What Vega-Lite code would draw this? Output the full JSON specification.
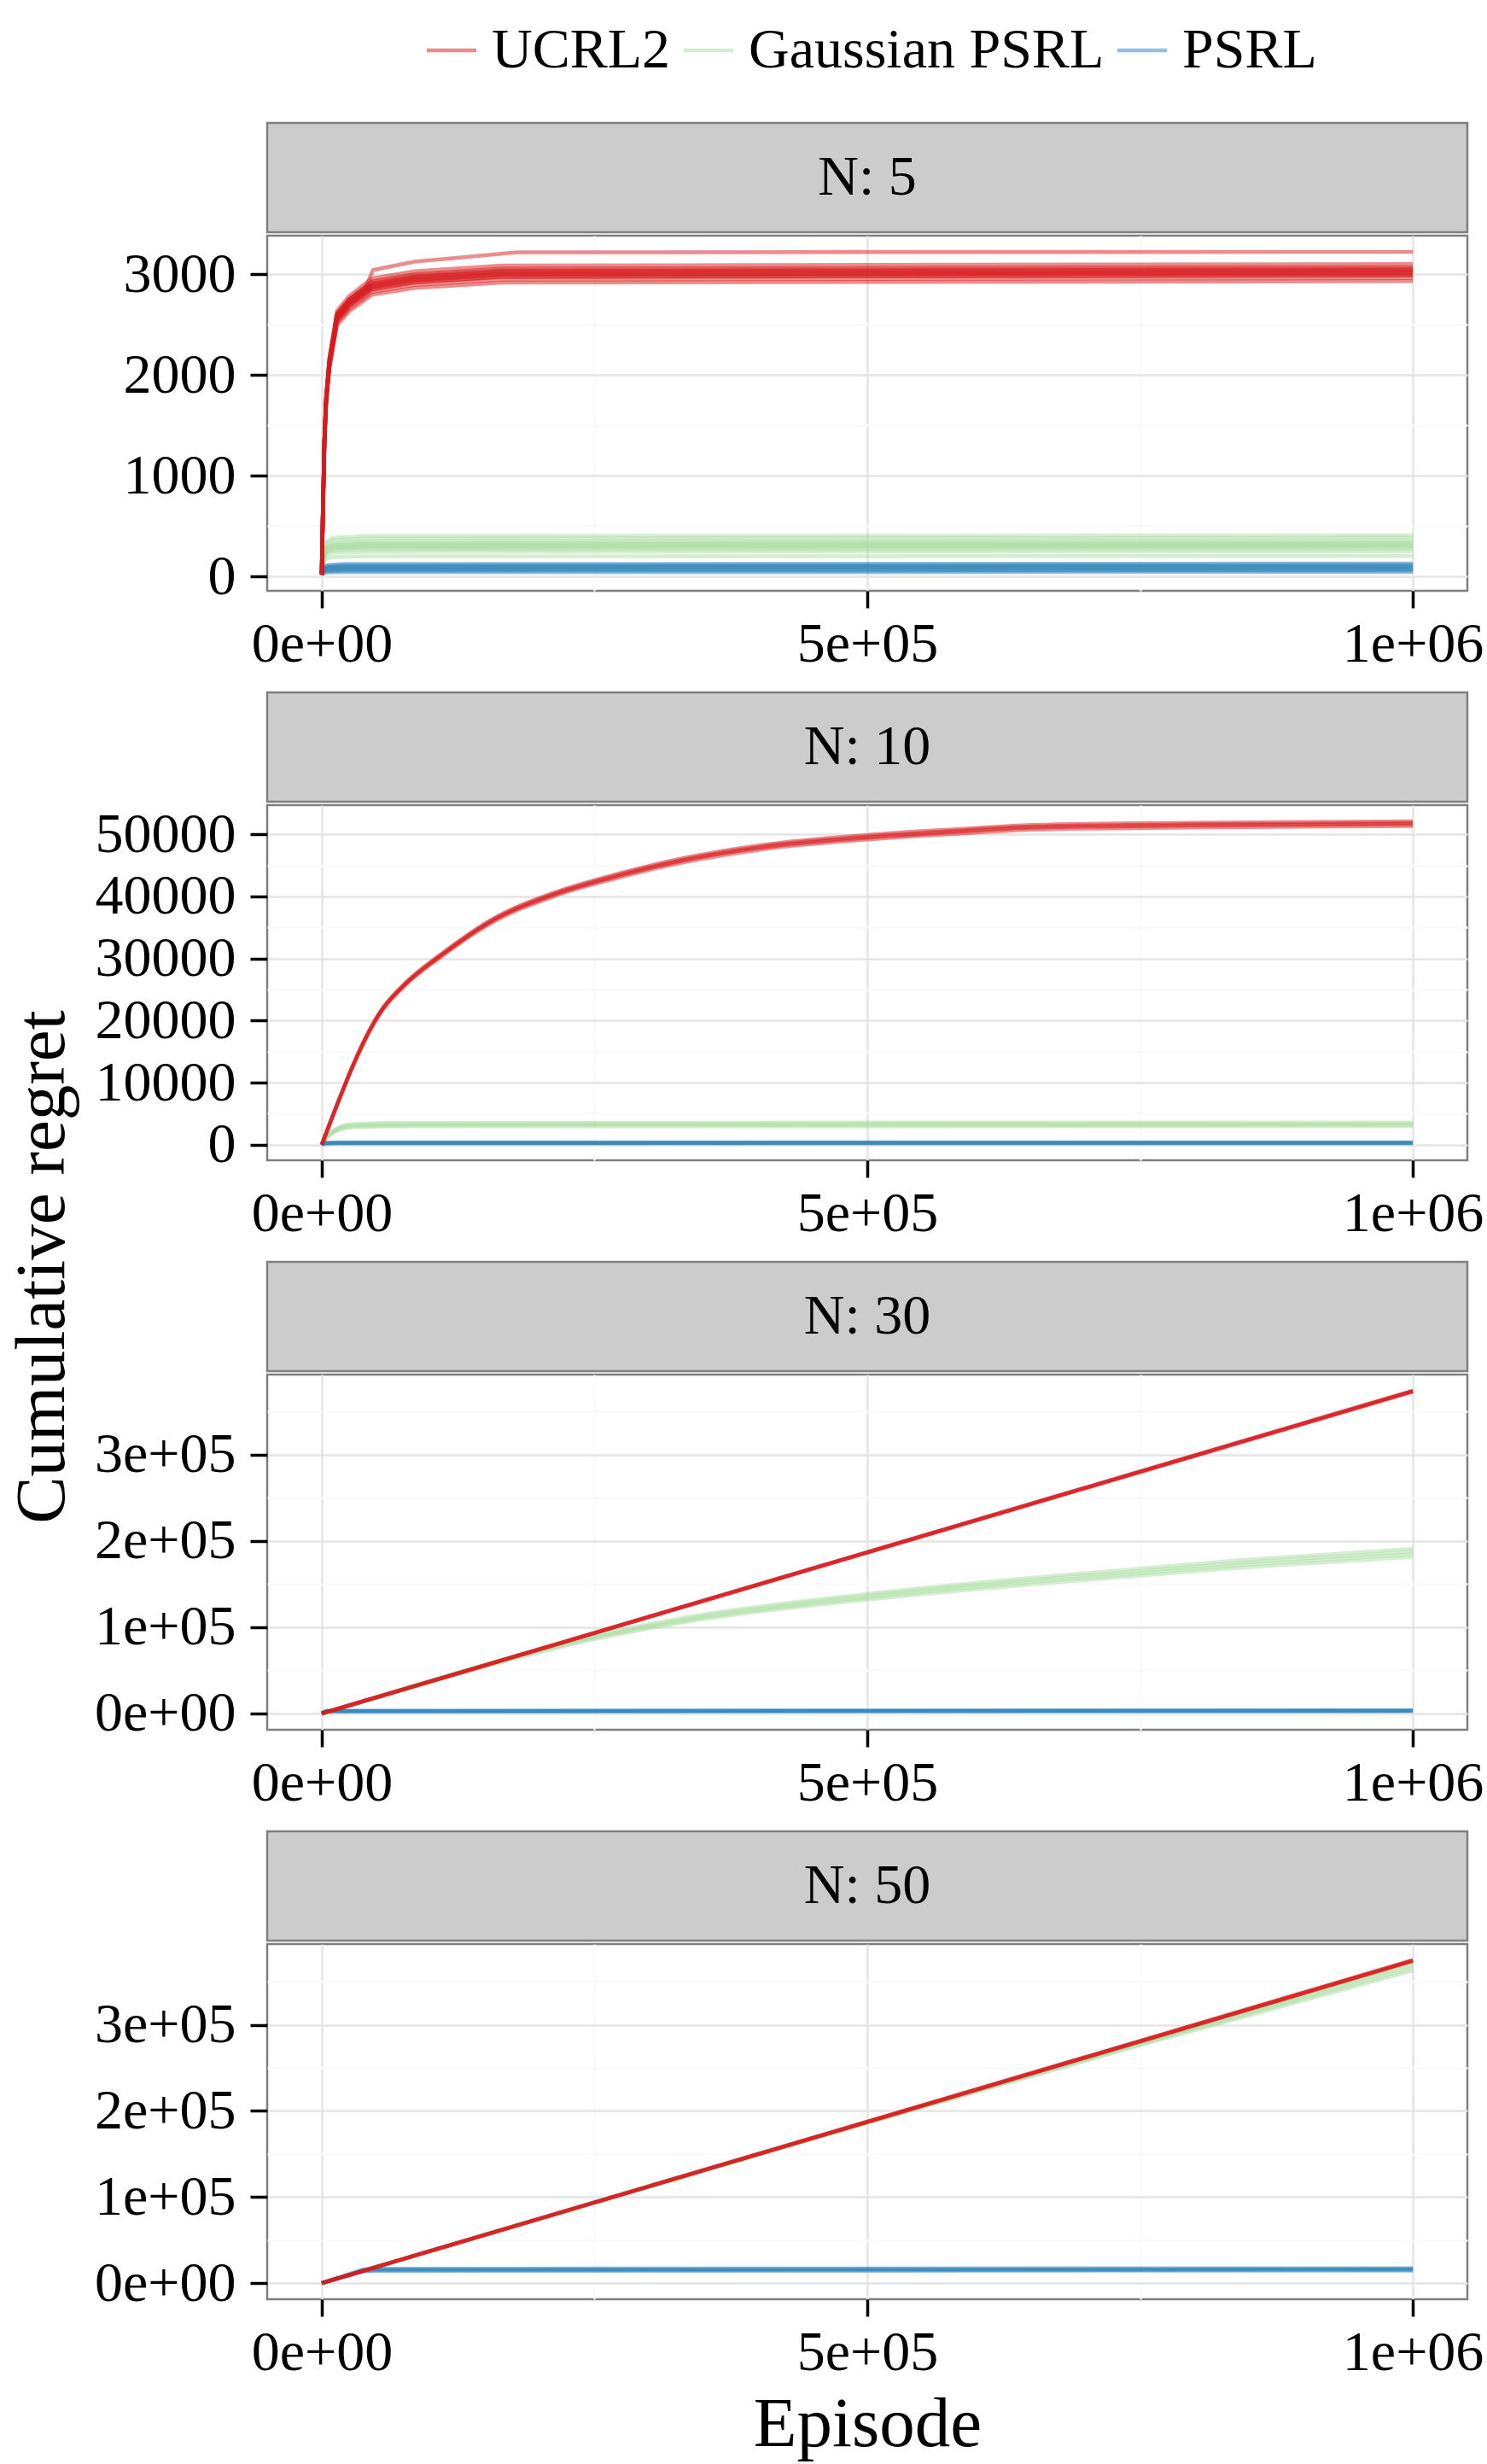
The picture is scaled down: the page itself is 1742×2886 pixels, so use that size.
{
  "$schema": "https://vega.github.io/schema/vega-lite/v6.json",
  "background": "white",
  "padding": {"left": 9, "top": 26, "right": 0, "bottom": 0},
  "datasets": {
    "n5": [
      {"algo":"Gaussian PSRL","run":1,"episode":0,"regret":19},{"algo":"Gaussian PSRL","run":1,"episode":1500,"regret":123},{"algo":"Gaussian PSRL","run":1,"episode":4000,"regret":174},{"algo":"Gaussian PSRL","run":1,"episode":10000,"regret":193},{"algo":"Gaussian PSRL","run":1,"episode":40000,"regret":201},{"algo":"Gaussian PSRL","run":1,"episode":1000000,"regret":205},
      {"algo":"Gaussian PSRL","run":2,"episode":0,"regret":19},{"algo":"Gaussian PSRL","run":2,"episode":1500,"regret":150},{"algo":"Gaussian PSRL","run":2,"episode":4000,"regret":212},{"algo":"Gaussian PSRL","run":2,"episode":10000,"regret":235},{"algo":"Gaussian PSRL","run":2,"episode":40000,"regret":245},{"algo":"Gaussian PSRL","run":2,"episode":1000000,"regret":250},
      {"algo":"Gaussian PSRL","run":3,"episode":0,"regret":19},{"algo":"Gaussian PSRL","run":3,"episode":1500,"regret":165},{"algo":"Gaussian PSRL","run":3,"episode":4000,"regret":234},{"algo":"Gaussian PSRL","run":3,"episode":10000,"regret":258},{"algo":"Gaussian PSRL","run":3,"episode":40000,"regret":270},{"algo":"Gaussian PSRL","run":3,"episode":1000000,"regret":275},
      {"algo":"Gaussian PSRL","run":4,"episode":0,"regret":19},{"algo":"Gaussian PSRL","run":4,"episode":1500,"regret":180},{"algo":"Gaussian PSRL","run":4,"episode":4000,"regret":255},{"algo":"Gaussian PSRL","run":4,"episode":10000,"regret":282},{"algo":"Gaussian PSRL","run":4,"episode":40000,"regret":294},{"algo":"Gaussian PSRL","run":4,"episode":1000000,"regret":300},
      {"algo":"Gaussian PSRL","run":5,"episode":0,"regret":19},{"algo":"Gaussian PSRL","run":5,"episode":1500,"regret":192},{"algo":"Gaussian PSRL","run":5,"episode":4000,"regret":272},{"algo":"Gaussian PSRL","run":5,"episode":10000,"regret":301},{"algo":"Gaussian PSRL","run":5,"episode":40000,"regret":314},{"algo":"Gaussian PSRL","run":5,"episode":1000000,"regret":320},
      {"algo":"Gaussian PSRL","run":6,"episode":0,"regret":19},{"algo":"Gaussian PSRL","run":6,"episode":1500,"regret":204},{"algo":"Gaussian PSRL","run":6,"episode":4000,"regret":289},{"algo":"Gaussian PSRL","run":6,"episode":10000,"regret":320},{"algo":"Gaussian PSRL","run":6,"episode":40000,"regret":333},{"algo":"Gaussian PSRL","run":6,"episode":1000000,"regret":340},
      {"algo":"Gaussian PSRL","run":7,"episode":0,"regret":19},{"algo":"Gaussian PSRL","run":7,"episode":1500,"regret":216},{"algo":"Gaussian PSRL","run":7,"episode":4000,"regret":306},{"algo":"Gaussian PSRL","run":7,"episode":10000,"regret":338},{"algo":"Gaussian PSRL","run":7,"episode":40000,"regret":353},{"algo":"Gaussian PSRL","run":7,"episode":1000000,"regret":360},
      {"algo":"Gaussian PSRL","run":8,"episode":0,"regret":19},{"algo":"Gaussian PSRL","run":8,"episode":1500,"regret":231},{"algo":"Gaussian PSRL","run":8,"episode":4000,"regret":327},{"algo":"Gaussian PSRL","run":8,"episode":10000,"regret":362},{"algo":"Gaussian PSRL","run":8,"episode":40000,"regret":377},{"algo":"Gaussian PSRL","run":8,"episode":1000000,"regret":385},
      {"algo":"Gaussian PSRL","run":9,"episode":0,"regret":19},{"algo":"Gaussian PSRL","run":9,"episode":1500,"regret":246},{"algo":"Gaussian PSRL","run":9,"episode":4000,"regret":348},{"algo":"Gaussian PSRL","run":9,"episode":10000,"regret":385},{"algo":"Gaussian PSRL","run":9,"episode":40000,"regret":402},{"algo":"Gaussian PSRL","run":9,"episode":1000000,"regret":410},
      {"algo":"Gaussian PSRL","run":10,"episode":0,"regret":19},{"algo":"Gaussian PSRL","run":10,"episode":1500,"regret":174},{"algo":"Gaussian PSRL","run":10,"episode":4000,"regret":247},{"algo":"Gaussian PSRL","run":10,"episode":10000,"regret":273},{"algo":"Gaussian PSRL","run":10,"episode":40000,"regret":284},{"algo":"Gaussian PSRL","run":10,"episode":1000000,"regret":290},
      {"algo":"Gaussian PSRL","run":11,"episode":0,"regret":19},{"algo":"Gaussian PSRL","run":11,"episode":1500,"regret":186},{"algo":"Gaussian PSRL","run":11,"episode":4000,"regret":264},{"algo":"Gaussian PSRL","run":11,"episode":10000,"regret":291},{"algo":"Gaussian PSRL","run":11,"episode":40000,"regret":304},{"algo":"Gaussian PSRL","run":11,"episode":1000000,"regret":310},
      {"algo":"Gaussian PSRL","run":12,"episode":0,"regret":19},{"algo":"Gaussian PSRL","run":12,"episode":1500,"regret":198},{"algo":"Gaussian PSRL","run":12,"episode":4000,"regret":281},{"algo":"Gaussian PSRL","run":12,"episode":10000,"regret":310},{"algo":"Gaussian PSRL","run":12,"episode":40000,"regret":323},{"algo":"Gaussian PSRL","run":12,"episode":1000000,"regret":330},
      {"algo":"PSRL","run":1,"episode":0,"regret":19},{"algo":"PSRL","run":1,"episode":1500,"regret":32},{"algo":"PSRL","run":1,"episode":5000,"regret":40},{"algo":"PSRL","run":1,"episode":20000,"regret":43},{"algo":"PSRL","run":1,"episode":1000000,"regret":45},
      {"algo":"PSRL","run":2,"episode":0,"regret":19},{"algo":"PSRL","run":2,"episode":1500,"regret":42},{"algo":"PSRL","run":2,"episode":5000,"regret":53},{"algo":"PSRL","run":2,"episode":20000,"regret":58},{"algo":"PSRL","run":2,"episode":1000000,"regret":60},
      {"algo":"PSRL","run":3,"episode":0,"regret":19},{"algo":"PSRL","run":3,"episode":1500,"regret":50},{"algo":"PSRL","run":3,"episode":5000,"regret":63},{"algo":"PSRL","run":3,"episode":20000,"regret":69},{"algo":"PSRL","run":3,"episode":1000000,"regret":72},
      {"algo":"PSRL","run":4,"episode":0,"regret":19},{"algo":"PSRL","run":4,"episode":1500,"regret":60},{"algo":"PSRL","run":4,"episode":5000,"regret":75},{"algo":"PSRL","run":4,"episode":20000,"regret":82},{"algo":"PSRL","run":4,"episode":1000000,"regret":85},
      {"algo":"PSRL","run":5,"episode":0,"regret":19},{"algo":"PSRL","run":5,"episode":1500,"regret":67},{"algo":"PSRL","run":5,"episode":5000,"regret":84},{"algo":"PSRL","run":5,"episode":20000,"regret":91},{"algo":"PSRL","run":5,"episode":1000000,"regret":95},
      {"algo":"PSRL","run":6,"episode":0,"regret":19},{"algo":"PSRL","run":6,"episode":1500,"regret":74},{"algo":"PSRL","run":6,"episode":5000,"regret":92},{"algo":"PSRL","run":6,"episode":20000,"regret":101},{"algo":"PSRL","run":6,"episode":1000000,"regret":105},
      {"algo":"PSRL","run":7,"episode":0,"regret":19},{"algo":"PSRL","run":7,"episode":1500,"regret":83},{"algo":"PSRL","run":7,"episode":5000,"regret":104},{"algo":"PSRL","run":7,"episode":20000,"regret":113},{"algo":"PSRL","run":7,"episode":1000000,"regret":118},
      {"algo":"PSRL","run":8,"episode":0,"regret":19},{"algo":"PSRL","run":8,"episode":1500,"regret":91},{"algo":"PSRL","run":8,"episode":5000,"regret":114},{"algo":"PSRL","run":8,"episode":20000,"regret":125},{"algo":"PSRL","run":8,"episode":1000000,"regret":130},
      {"algo":"UCRL2","run":1,"episode":0,"regret":19},{"algo":"UCRL2","run":1,"episode":1000,"regret":584},{"algo":"UCRL2","run":1,"episode":2500,"regret":1314},{"algo":"UCRL2","run":1,"episode":4000,"regret":1694},{"algo":"UCRL2","run":1,"episode":7000,"regret":2054},{"algo":"UCRL2","run":1,"episode":14000,"regret":2492},{"algo":"UCRL2","run":1,"episode":25000,"regret":2628},{"algo":"UCRL2","run":1,"episode":46000,"regret":2794},{"algo":"UCRL2","run":1,"episode":85000,"regret":2862},{"algo":"UCRL2","run":1,"episode":165000,"regret":2915},{"algo":"UCRL2","run":1,"episode":1000000,"regret":2930},
      {"algo":"UCRL2","run":2,"episode":0,"regret":19},{"algo":"UCRL2","run":2,"episode":1000,"regret":590},{"algo":"UCRL2","run":2,"episode":2500,"regret":1328},{"algo":"UCRL2","run":2,"episode":4000,"regret":1711},{"algo":"UCRL2","run":2,"episode":7000,"regret":2075},{"algo":"UCRL2","run":2,"episode":14000,"regret":2518},{"algo":"UCRL2","run":2,"episode":25000,"regret":2655},{"algo":"UCRL2","run":2,"episode":46000,"regret":2822},{"algo":"UCRL2","run":2,"episode":85000,"regret":2891},{"algo":"UCRL2","run":2,"episode":165000,"regret":2945},{"algo":"UCRL2","run":2,"episode":1000000,"regret":2960},
      {"algo":"UCRL2","run":3,"episode":0,"regret":19},{"algo":"UCRL2","run":3,"episode":1000,"regret":595},{"algo":"UCRL2","run":3,"episode":2500,"regret":1339},{"algo":"UCRL2","run":3,"episode":4000,"regret":1726},{"algo":"UCRL2","run":3,"episode":7000,"regret":2092},{"algo":"UCRL2","run":3,"episode":14000,"regret":2539},{"algo":"UCRL2","run":3,"episode":25000,"regret":2678},{"algo":"UCRL2","run":3,"episode":46000,"regret":2846},{"algo":"UCRL2","run":3,"episode":85000,"regret":2916},{"algo":"UCRL2","run":3,"episode":165000,"regret":2970},{"algo":"UCRL2","run":3,"episode":1000000,"regret":2985},
      {"algo":"UCRL2","run":4,"episode":0,"regret":19},{"algo":"UCRL2","run":4,"episode":1000,"regret":599},{"algo":"UCRL2","run":4,"episode":2500,"regret":1348},{"algo":"UCRL2","run":4,"episode":4000,"regret":1737},{"algo":"UCRL2","run":4,"episode":7000,"regret":2106},{"algo":"UCRL2","run":4,"episode":14000,"regret":2556},{"algo":"UCRL2","run":4,"episode":25000,"regret":2695},{"algo":"UCRL2","run":4,"episode":46000,"regret":2865},{"algo":"UCRL2","run":4,"episode":85000,"regret":2935},{"algo":"UCRL2","run":4,"episode":165000,"regret":2990},{"algo":"UCRL2","run":4,"episode":1000000,"regret":3005},
      {"algo":"UCRL2","run":5,"episode":0,"regret":19},{"algo":"UCRL2","run":5,"episode":1000,"regret":603},{"algo":"UCRL2","run":5,"episode":2500,"regret":1357},{"algo":"UCRL2","run":5,"episode":4000,"regret":1749},{"algo":"UCRL2","run":5,"episode":7000,"regret":2121},{"algo":"UCRL2","run":5,"episode":14000,"regret":2573},{"algo":"UCRL2","run":5,"episode":25000,"regret":2714},{"algo":"UCRL2","run":5,"episode":46000,"regret":2884},{"algo":"UCRL2","run":5,"episode":85000,"regret":2955},{"algo":"UCRL2","run":5,"episode":165000,"regret":3010},{"algo":"UCRL2","run":5,"episode":1000000,"regret":3025},
      {"algo":"UCRL2","run":6,"episode":0,"regret":19},{"algo":"UCRL2","run":6,"episode":1000,"regret":607},{"algo":"UCRL2","run":6,"episode":2500,"regret":1366},{"algo":"UCRL2","run":6,"episode":4000,"regret":1760},{"algo":"UCRL2","run":6,"episode":7000,"regret":2134},{"algo":"UCRL2","run":6,"episode":14000,"regret":2590},{"algo":"UCRL2","run":6,"episode":25000,"regret":2731},{"algo":"UCRL2","run":6,"episode":46000,"regret":2903},{"algo":"UCRL2","run":6,"episode":85000,"regret":2974},{"algo":"UCRL2","run":6,"episode":165000,"regret":3030},{"algo":"UCRL2","run":6,"episode":1000000,"regret":3045},
      {"algo":"UCRL2","run":7,"episode":0,"regret":19},{"algo":"UCRL2","run":7,"episode":1000,"regret":612},{"algo":"UCRL2","run":7,"episode":2500,"regret":1377},{"algo":"UCRL2","run":7,"episode":4000,"regret":1775},{"algo":"UCRL2","run":7,"episode":7000,"regret":2152},{"algo":"UCRL2","run":7,"episode":14000,"regret":2611},{"algo":"UCRL2","run":7,"episode":25000,"regret":2754},{"algo":"UCRL2","run":7,"episode":46000,"regret":2927},{"algo":"UCRL2","run":7,"episode":85000,"regret":2998},{"algo":"UCRL2","run":7,"episode":165000,"regret":3055},{"algo":"UCRL2","run":7,"episode":1000000,"regret":3070},
      {"algo":"UCRL2","run":8,"episode":0,"regret":19},{"algo":"UCRL2","run":8,"episode":1000,"regret":618},{"algo":"UCRL2","run":8,"episode":2500,"regret":1390},{"algo":"UCRL2","run":8,"episode":4000,"regret":1792},{"algo":"UCRL2","run":8,"episode":7000,"regret":2173},{"algo":"UCRL2","run":8,"episode":14000,"regret":2637},{"algo":"UCRL2","run":8,"episode":25000,"regret":2781},{"algo":"UCRL2","run":8,"episode":46000,"regret":2956},{"algo":"UCRL2","run":8,"episode":85000,"regret":3028},{"algo":"UCRL2","run":8,"episode":165000,"regret":3085},{"algo":"UCRL2","run":8,"episode":1000000,"regret":3100},
      {"algo":"UCRL2","run":10,"episode":0,"regret":19},{"algo":"UCRL2","run":10,"episode":1000,"regret":596},{"algo":"UCRL2","run":10,"episode":2500,"regret":1341},{"algo":"UCRL2","run":10,"episode":4000,"regret":1729},{"algo":"UCRL2","run":10,"episode":7000,"regret":2096},{"algo":"UCRL2","run":10,"episode":14000,"regret":2543},{"algo":"UCRL2","run":10,"episode":25000,"regret":2682},{"algo":"UCRL2","run":10,"episode":46000,"regret":2851},{"algo":"UCRL2","run":10,"episode":85000,"regret":2921},{"algo":"UCRL2","run":10,"episode":165000,"regret":2975},{"algo":"UCRL2","run":10,"episode":1000000,"regret":2990},
      {"algo":"UCRL2","run":11,"episode":0,"regret":19},{"algo":"UCRL2","run":11,"episode":1000,"regret":601},{"algo":"UCRL2","run":11,"episode":2500,"regret":1352},{"algo":"UCRL2","run":11,"episode":4000,"regret":1743},{"algo":"UCRL2","run":11,"episode":7000,"regret":2114},{"algo":"UCRL2","run":11,"episode":14000,"regret":2564},{"algo":"UCRL2","run":11,"episode":25000,"regret":2705},{"algo":"UCRL2","run":11,"episode":46000,"regret":2875},{"algo":"UCRL2","run":11,"episode":85000,"regret":2945},{"algo":"UCRL2","run":11,"episode":165000,"regret":3000},{"algo":"UCRL2","run":11,"episode":1000000,"regret":3015},
      {"algo":"UCRL2","run":12,"episode":0,"regret":19},{"algo":"UCRL2","run":12,"episode":1000,"regret":605},{"algo":"UCRL2","run":12,"episode":2500,"regret":1361},{"algo":"UCRL2","run":12,"episode":4000,"regret":1754},{"algo":"UCRL2","run":12,"episode":7000,"regret":2128},{"algo":"UCRL2","run":12,"episode":14000,"regret":2581},{"algo":"UCRL2","run":12,"episode":25000,"regret":2722},{"algo":"UCRL2","run":12,"episode":46000,"regret":2894},{"algo":"UCRL2","run":12,"episode":85000,"regret":2964},{"algo":"UCRL2","run":12,"episode":165000,"regret":3020},{"algo":"UCRL2","run":12,"episode":1000000,"regret":3035},
      {"algo":"UCRL2","run":13,"episode":0,"regret":19},{"algo":"UCRL2","run":13,"episode":1000,"regret":610},{"algo":"UCRL2","run":13,"episode":2500,"regret":1372},{"algo":"UCRL2","run":13,"episode":4000,"regret":1769},{"algo":"UCRL2","run":13,"episode":7000,"regret":2145},{"algo":"UCRL2","run":13,"episode":14000,"regret":2603},{"algo":"UCRL2","run":13,"episode":25000,"regret":2745},{"algo":"UCRL2","run":13,"episode":46000,"regret":2918},{"algo":"UCRL2","run":13,"episode":85000,"regret":2989},{"algo":"UCRL2","run":13,"episode":165000,"regret":3045},{"algo":"UCRL2","run":13,"episode":1000000,"regret":3060},
      {"algo":"UCRL2","run":9,"episode":0,"regret":19},{"algo":"UCRL2","run":9,"episode":1000,"regret":610},{"algo":"UCRL2","run":9,"episode":2500,"regret":1380},{"algo":"UCRL2","run":9,"episode":4000,"regret":1770},{"algo":"UCRL2","run":9,"episode":7000,"regret":2150},{"algo":"UCRL2","run":9,"episode":14000,"regret":2600},{"algo":"UCRL2","run":9,"episode":25000,"regret":2740},{"algo":"UCRL2","run":9,"episode":40000,"regret":2860},{"algo":"UCRL2","run":9,"episode":47000,"regret":3040},{"algo":"UCRL2","run":9,"episode":85000,"regret":3122},{"algo":"UCRL2","run":9,"episode":179000,"regret":3215},{"algo":"UCRL2","run":9,"episode":1000000,"regret":3221}
    ],
    "n10": [
      {"algo":"Gaussian PSRL","run":1,"episode":0,"regret":0},{"algo":"Gaussian PSRL","run":1,"episode":5000,"regret":1200},{"algo":"Gaussian PSRL","run":1,"episode":12000,"regret":2040},{"algo":"Gaussian PSRL","run":1,"episode":28000,"regret":2790},{"algo":"Gaussian PSRL","run":1,"episode":80000,"regret":2955},{"algo":"Gaussian PSRL","run":1,"episode":1000000,"regret":3000},
      {"algo":"Gaussian PSRL","run":2,"episode":0,"regret":0},{"algo":"Gaussian PSRL","run":2,"episode":5000,"regret":1280},{"algo":"Gaussian PSRL","run":2,"episode":12000,"regret":2176},{"algo":"Gaussian PSRL","run":2,"episode":28000,"regret":2976},{"algo":"Gaussian PSRL","run":2,"episode":80000,"regret":3152},{"algo":"Gaussian PSRL","run":2,"episode":1000000,"regret":3200},
      {"algo":"Gaussian PSRL","run":3,"episode":0,"regret":0},{"algo":"Gaussian PSRL","run":3,"episode":5000,"regret":1360},{"algo":"Gaussian PSRL","run":3,"episode":12000,"regret":2312},{"algo":"Gaussian PSRL","run":3,"episode":28000,"regret":3162},{"algo":"Gaussian PSRL","run":3,"episode":80000,"regret":3349},{"algo":"Gaussian PSRL","run":3,"episode":1000000,"regret":3400},
      {"algo":"Gaussian PSRL","run":4,"episode":0,"regret":0},{"algo":"Gaussian PSRL","run":4,"episode":5000,"regret":1440},{"algo":"Gaussian PSRL","run":4,"episode":12000,"regret":2448},{"algo":"Gaussian PSRL","run":4,"episode":28000,"regret":3348},{"algo":"Gaussian PSRL","run":4,"episode":80000,"regret":3546},{"algo":"Gaussian PSRL","run":4,"episode":1000000,"regret":3600},
      {"algo":"PSRL","run":1,"episode":0,"regret":0},{"algo":"PSRL","run":1,"episode":3000,"regret":176},{"algo":"PSRL","run":1,"episode":15000,"regret":213},{"algo":"PSRL","run":1,"episode":1000000,"regret":220},
      {"algo":"PSRL","run":2,"episode":0,"regret":0},{"algo":"PSRL","run":2,"episode":3000,"regret":224},{"algo":"PSRL","run":2,"episode":15000,"regret":272},{"algo":"PSRL","run":2,"episode":1000000,"regret":280},
      {"algo":"PSRL","run":3,"episode":0,"regret":0},{"algo":"PSRL","run":3,"episode":3000,"regret":272},{"algo":"PSRL","run":3,"episode":15000,"regret":330},{"algo":"PSRL","run":3,"episode":1000000,"regret":340},
      {"algo":"PSRL","run":4,"episode":0,"regret":0},{"algo":"PSRL","run":4,"episode":3000,"regret":320},{"algo":"PSRL","run":4,"episode":15000,"regret":388},{"algo":"PSRL","run":4,"episode":1000000,"regret":400},
      {"algo":"UCRL2","run":1,"episode":0,"regret":0},{"algo":"UCRL2","run":1,"episode":56600,"regret":21890},{"algo":"UCRL2","run":1,"episode":74300,"regret":25300},{"algo":"UCRL2","run":1,"episode":113200,"regret":30750},{"algo":"UCRL2","run":1,"episode":155700,"regret":35750},{"algo":"UCRL2","run":1,"episode":212300,"regret":39980},{"algo":"UCRL2","run":1,"episode":261900,"regret":42560},{"algo":"UCRL2","run":1,"episode":332600,"regret":45510},{"algo":"UCRL2","run":1,"episode":403400,"regret":47560},{"algo":"UCRL2","run":1,"episode":500300,"regret":49150},{"algo":"UCRL2","run":1,"episode":580300,"regret":50060},{"algo":"UCRL2","run":1,"episode":651100,"regret":50740},{"algo":"UCRL2","run":1,"episode":792600,"regret":51090},{"algo":"UCRL2","run":1,"episode":1000000,"regret":51330},
      {"algo":"UCRL2","run":2,"episode":0,"regret":0},{"algo":"UCRL2","run":2,"episode":56600,"regret":22030},{"algo":"UCRL2","run":2,"episode":74300,"regret":25450},{"algo":"UCRL2","run":2,"episode":113200,"regret":30940},{"algo":"UCRL2","run":2,"episode":155700,"regret":35970},{"algo":"UCRL2","run":2,"episode":212300,"regret":40220},{"algo":"UCRL2","run":2,"episode":261900,"regret":42810},{"algo":"UCRL2","run":2,"episode":332600,"regret":45790},{"algo":"UCRL2","run":2,"episode":403400,"regret":47840},{"algo":"UCRL2","run":2,"episode":500300,"regret":49450},{"algo":"UCRL2","run":2,"episode":580300,"regret":50360},{"algo":"UCRL2","run":2,"episode":651100,"regret":51050},{"algo":"UCRL2","run":2,"episode":792600,"regret":51400},{"algo":"UCRL2","run":2,"episode":1000000,"regret":51640},
      {"algo":"UCRL2","run":3,"episode":0,"regret":0},{"algo":"UCRL2","run":3,"episode":56600,"regret":22110},{"algo":"UCRL2","run":3,"episode":74300,"regret":25550},{"algo":"UCRL2","run":3,"episode":113200,"regret":31060},{"algo":"UCRL2","run":3,"episode":155700,"regret":36110},{"algo":"UCRL2","run":3,"episode":212300,"regret":40380},{"algo":"UCRL2","run":3,"episode":261900,"regret":42990},{"algo":"UCRL2","run":3,"episode":332600,"regret":45970},{"algo":"UCRL2","run":3,"episode":403400,"regret":48040},{"algo":"UCRL2","run":3,"episode":500300,"regret":49650},{"algo":"UCRL2","run":3,"episode":580300,"regret":50560},{"algo":"UCRL2","run":3,"episode":651100,"regret":51250},{"algo":"UCRL2","run":3,"episode":792600,"regret":51600},{"algo":"UCRL2","run":3,"episode":1000000,"regret":51840},
      {"algo":"UCRL2","run":4,"episode":0,"regret":0},{"algo":"UCRL2","run":4,"episode":56600,"regret":22220},{"algo":"UCRL2","run":4,"episode":74300,"regret":25680},{"algo":"UCRL2","run":4,"episode":113200,"regret":31220},{"algo":"UCRL2","run":4,"episode":155700,"regret":36290},{"algo":"UCRL2","run":4,"episode":212300,"regret":40580},{"algo":"UCRL2","run":4,"episode":261900,"regret":43200},{"algo":"UCRL2","run":4,"episode":332600,"regret":46200},{"algo":"UCRL2","run":4,"episode":403400,"regret":48280},{"algo":"UCRL2","run":4,"episode":500300,"regret":49900},{"algo":"UCRL2","run":4,"episode":580300,"regret":50810},{"algo":"UCRL2","run":4,"episode":651100,"regret":51510},{"algo":"UCRL2","run":4,"episode":792600,"regret":51860},{"algo":"UCRL2","run":4,"episode":1000000,"regret":52100}
    ],
    "n30": [
      {"algo":"Gaussian PSRL","run":1,"episode":0,"regret":0},{"algo":"Gaussian PSRL","run":1,"episode":56400,"regret":20670},{"algo":"Gaussian PSRL","run":1,"episode":125900,"regret":45830},{"algo":"Gaussian PSRL","run":1,"episode":247000,"regret":85220},{"algo":"Gaussian PSRL","run":1,"episode":334000,"regret":106080},{"algo":"Gaussian PSRL","run":1,"episode":499000,"regret":131820},{"algo":"Gaussian PSRL","run":1,"episode":664000,"regret":151130},{"algo":"Gaussian PSRL","run":1,"episode":838000,"regret":168770},{"algo":"Gaussian PSRL","run":1,"episode":1000000,"regret":181640},
      {"algo":"Gaussian PSRL","run":2,"episode":0,"regret":0},{"algo":"Gaussian PSRL","run":2,"episode":56400,"regret":21030},{"algo":"Gaussian PSRL","run":2,"episode":125900,"regret":46620},{"algo":"Gaussian PSRL","run":2,"episode":247000,"regret":86700},{"algo":"Gaussian PSRL","run":2,"episode":334000,"regret":107930},{"algo":"Gaussian PSRL","run":2,"episode":499000,"regret":134120},{"algo":"Gaussian PSRL","run":2,"episode":664000,"regret":153760},{"algo":"Gaussian PSRL","run":2,"episode":838000,"regret":171720},{"algo":"Gaussian PSRL","run":2,"episode":1000000,"regret":184810},
      {"algo":"Gaussian PSRL","run":3,"episode":0,"regret":0},{"algo":"Gaussian PSRL","run":3,"episode":56400,"regret":21370},{"algo":"Gaussian PSRL","run":3,"episode":125900,"regret":47380},{"algo":"Gaussian PSRL","run":3,"episode":247000,"regret":88100},{"algo":"Gaussian PSRL","run":3,"episode":334000,"regret":109670},{"algo":"Gaussian PSRL","run":3,"episode":499000,"regret":136280},{"algo":"Gaussian PSRL","run":3,"episode":664000,"regret":156240},{"algo":"Gaussian PSRL","run":3,"episode":838000,"regret":174480},{"algo":"Gaussian PSRL","run":3,"episode":1000000,"regret":187790},
      {"algo":"Gaussian PSRL","run":4,"episode":0,"regret":0},{"algo":"Gaussian PSRL","run":4,"episode":56400,"regret":21730},{"algo":"Gaussian PSRL","run":4,"episode":125900,"regret":48180},{"algo":"Gaussian PSRL","run":4,"episode":247000,"regret":89590},{"algo":"Gaussian PSRL","run":4,"episode":334000,"regret":111520},{"algo":"Gaussian PSRL","run":4,"episode":499000,"regret":138580},{"algo":"Gaussian PSRL","run":4,"episode":664000,"regret":158880},{"algo":"Gaussian PSRL","run":4,"episode":838000,"regret":177430},{"algo":"Gaussian PSRL","run":4,"episode":1000000,"regret":190960},
      {"algo":"PSRL","run":1,"episode":0,"regret":0},{"algo":"PSRL","run":1,"episode":5000,"regret":2380},{"algo":"PSRL","run":1,"episode":1000000,"regret":2800},
      {"algo":"PSRL","run":2,"episode":0,"regret":0},{"algo":"PSRL","run":2,"episode":5000,"regret":2635},{"algo":"PSRL","run":2,"episode":1000000,"regret":3100},
      {"algo":"PSRL","run":3,"episode":0,"regret":0},{"algo":"PSRL","run":3,"episode":5000,"regret":2890},{"algo":"PSRL","run":3,"episode":1000000,"regret":3400},
      {"algo":"PSRL","run":4,"episode":0,"regret":0},{"algo":"PSRL","run":4,"episode":5000,"regret":3145},{"algo":"PSRL","run":4,"episode":1000000,"regret":3700},
      {"algo":"UCRL2","run":1,"episode":0,"regret":0},{"algo":"UCRL2","run":1,"episode":500000,"regret":186500},{"algo":"UCRL2","run":1,"episode":1000000,"regret":373000},
      {"algo":"UCRL2","run":2,"episode":0,"regret":0},{"algo":"UCRL2","run":2,"episode":500000,"regret":186700},{"algo":"UCRL2","run":2,"episode":1000000,"regret":373400},
      {"algo":"UCRL2","run":3,"episode":0,"regret":0},{"algo":"UCRL2","run":3,"episode":500000,"regret":186900},{"algo":"UCRL2","run":3,"episode":1000000,"regret":373800},
      {"algo":"UCRL2","run":4,"episode":0,"regret":0},{"algo":"UCRL2","run":4,"episode":500000,"regret":187100},{"algo":"UCRL2","run":4,"episode":1000000,"regret":374200}
    ],
    "n50": [
      {"algo":"Gaussian PSRL","run":1,"episode":0,"regret":0},{"algo":"Gaussian PSRL","run":1,"episode":250000,"regret":93500},{"algo":"Gaussian PSRL","run":1,"episode":500000,"regret":185800},{"algo":"Gaussian PSRL","run":1,"episode":750000,"regret":276200},{"algo":"Gaussian PSRL","run":1,"episode":1000000,"regret":363000},
      {"algo":"Gaussian PSRL","run":2,"episode":0,"regret":0},{"algo":"Gaussian PSRL","run":2,"episode":250000,"regret":93600},{"algo":"Gaussian PSRL","run":2,"episode":500000,"regret":186100},{"algo":"Gaussian PSRL","run":2,"episode":750000,"regret":277400},{"algo":"Gaussian PSRL","run":2,"episode":1000000,"regret":366000},
      {"algo":"Gaussian PSRL","run":3,"episode":0,"regret":0},{"algo":"Gaussian PSRL","run":3,"episode":250000,"regret":93700},{"algo":"Gaussian PSRL","run":3,"episode":500000,"regret":186400},{"algo":"Gaussian PSRL","run":3,"episode":750000,"regret":278600},{"algo":"Gaussian PSRL","run":3,"episode":1000000,"regret":369000},
      {"algo":"Gaussian PSRL","run":4,"episode":0,"regret":0},{"algo":"Gaussian PSRL","run":4,"episode":250000,"regret":93700},{"algo":"Gaussian PSRL","run":4,"episode":500000,"regret":186700},{"algo":"Gaussian PSRL","run":4,"episode":750000,"regret":279800},{"algo":"Gaussian PSRL","run":4,"episode":1000000,"regret":372000},
      {"algo":"PSRL","run":1,"episode":0,"regret":0},{"algo":"PSRL","run":1,"episode":38000,"regret":13340},{"algo":"PSRL","run":1,"episode":50000,"regret":14070},{"algo":"PSRL","run":1,"episode":1000000,"regret":14500},
      {"algo":"PSRL","run":2,"episode":0,"regret":0},{"algo":"PSRL","run":2,"episode":38000,"regret":14170},{"algo":"PSRL","run":2,"episode":50000,"regret":14940},{"algo":"PSRL","run":2,"episode":1000000,"regret":15400},
      {"algo":"PSRL","run":3,"episode":0,"regret":0},{"algo":"PSRL","run":3,"episode":38000,"regret":15000},{"algo":"PSRL","run":3,"episode":50000,"regret":15810},{"algo":"PSRL","run":3,"episode":1000000,"regret":16300},
      {"algo":"PSRL","run":4,"episode":0,"regret":0},{"algo":"PSRL","run":4,"episode":38000,"regret":15820},{"algo":"PSRL","run":4,"episode":50000,"regret":16680},{"algo":"PSRL","run":4,"episode":1000000,"regret":17200},
      {"algo":"UCRL2","run":1,"episode":0,"regret":0},{"algo":"UCRL2","run":1,"episode":500000,"regret":187000},{"algo":"UCRL2","run":1,"episode":1000000,"regret":374000},
      {"algo":"UCRL2","run":2,"episode":0,"regret":0},{"algo":"UCRL2","run":2,"episode":500000,"regret":187200},{"algo":"UCRL2","run":2,"episode":1000000,"regret":374400},
      {"algo":"UCRL2","run":3,"episode":0,"regret":0},{"algo":"UCRL2","run":3,"episode":500000,"regret":187400},{"algo":"UCRL2","run":3,"episode":1000000,"regret":374800},
      {"algo":"UCRL2","run":4,"episode":0,"regret":0},{"algo":"UCRL2","run":4,"episode":500000,"regret":187600},{"algo":"UCRL2","run":4,"episode":1000000,"regret":375200}
    ]
  },
  "spacing": 17,
  "hconcat": [
    {
      "width": 80, "height": 2680,
      "view": {"stroke": null, "fill": null},
      "data": {"values": [{"label": "Cumulative regret"}]},
      "mark": {"type": "text", "angle": 270, "font": "Liberation Serif", "fontSize": 83, "color": "black", "align": "center", "baseline": "middle"},
      "encoding": {"text": {"field": "label", "type": "nominal"}}
    },
    {
      "spacing": 20,
      "vconcat": [
        {
          "spacing": 0,
          "vconcat": [
            {
              "width": 1406, "height": 128,
              "view": {"fill": "#cccccc", "stroke": "#7f7f7f", "strokeWidth": 2.5},
              "data": {"values": [{"label": "N: 5"}]},
              "mark": {"type": "text", "font": "Liberation Serif", "fontSize": 66, "color": "black"},
              "encoding": {"text": {"field": "label", "type": "nominal"}}
            },
            {
              "width": 1406, "height": 416,
              "data": {"name": "n5"},
              "mark": {"type": "line", "strokeWidth": 4.5, "opacity": 0.5, "clip": true},
              "encoding": {
                "x": {
                  "field": "episode", "type": "quantitative",
                  "scale": {"domain": [-50000, 1050000], "nice": false, "zero": false},
                  "axis": {
                    "title": null,
                    "values": [0, 250000, 500000, 750000, 1000000],
                    "labelExpr": "datum.value == 0 ? '0e+00' : datum.value == 500000 ? '5e+05' : datum.value == 1000000 ? '1e+06' : ''",
                    "gridColor": {"condition": {"test": "datum.value % 500000 == 0", "value": "#e5e5e5"}, "value": "#fafafa"},
                    "tickOpacity": {"condition": {"test": "datum.value % 500000 == 0", "value": 1}, "value": 0}
                  }
                },
                "y": {
                  "field": "regret", "type": "quantitative",
                  "scale": {"domain": [-141, 3381], "nice": false, "zero": false},
                  "axis": {
                    "title": null,
                    "values": [0, 500, 1000, 1500, 2000, 2500, 3000],
                    "labelExpr": "datum.value % 1000 == 0 ? format(datum.value, 'd') : ''",
                    "gridColor": {"condition": {"test": "datum.value % 1000 == 0", "value": "#e5e5e5"}, "value": "#fafafa"},
                    "tickOpacity": {"condition": {"test": "datum.value % 1000 == 0", "value": 1}, "value": 0}
                  }
                },
                "color": {
                  "field": "algo", "type": "nominal",
                  "scale": {"domain": ["UCRL2", "Gaussian PSRL", "PSRL"], "range": ["#d7191c", "#abdda4", "#2b83ba"]},
                  "legend": {"orient": "none", "legendX": 486, "legendY": -118, "direction": "horizontal", "columns": 3, "title": null, "symbolType": "stroke", "symbolSize": 3364, "symbolStrokeWidth": 4.7, "symbolOpacity": 0.5, "labelFont": "Liberation Serif", "labelFontSize": 66, "labelColor": "black", "labelOffset": 14, "columnPadding": 5, "labelLimit": 1000}
                },
                "detail": {"field": "run", "type": "nominal"}
              }
            }
          ]
        },
        {
          "spacing": 0,
          "vconcat": [
            {
              "width": 1406, "height": 128,
              "view": {"fill": "#cccccc", "stroke": "#7f7f7f", "strokeWidth": 2.5},
              "data": {"values": [{"label": "N: 10"}]},
              "mark": {"type": "text", "font": "Liberation Serif", "fontSize": 66, "color": "black"},
              "encoding": {"text": {"field": "label", "type": "nominal"}}
            },
            {
              "width": 1406, "height": 416,
              "data": {"name": "n10"},
              "mark": {"type": "line", "strokeWidth": 4.5, "opacity": 0.5, "clip": true, "interpolate": "monotone"},
              "encoding": {
                "x": {
                  "field": "episode", "type": "quantitative",
                  "scale": {"domain": [-50000, 1050000], "nice": false, "zero": false},
                  "axis": {
                    "title": null,
                    "values": [0, 250000, 500000, 750000, 1000000],
                    "labelExpr": "datum.value == 0 ? '0e+00' : datum.value == 500000 ? '5e+05' : datum.value == 1000000 ? '1e+06' : ''",
                    "gridColor": {"condition": {"test": "datum.value % 500000 == 0", "value": "#e5e5e5"}, "value": "#fafafa"},
                    "tickOpacity": {"condition": {"test": "datum.value % 500000 == 0", "value": 1}, "value": 0}
                  }
                },
                "y": {
                  "field": "regret", "type": "quantitative",
                  "scale": {"domain": [-2500, 54700], "nice": false, "zero": false},
                  "axis": {
                    "title": null,
                    "values": [0, 5000, 10000, 15000, 20000, 25000, 30000, 35000, 40000, 45000, 50000],
                    "labelExpr": "datum.value % 10000 == 0 ? format(datum.value, 'd') : ''",
                    "gridColor": {"condition": {"test": "datum.value % 10000 == 0", "value": "#e5e5e5"}, "value": "#fafafa"},
                    "tickOpacity": {"condition": {"test": "datum.value % 10000 == 0", "value": 1}, "value": 0}
                  }
                },
                "color": {
                  "field": "algo", "type": "nominal",
                  "scale": {"domain": ["UCRL2", "Gaussian PSRL", "PSRL"], "range": ["#d7191c", "#abdda4", "#2b83ba"]},
                  "legend": {"orient": "none", "legendX": 486, "legendY": -118, "direction": "horizontal", "columns": 3, "title": null, "symbolType": "stroke", "symbolSize": 3364, "symbolStrokeWidth": 4.7, "symbolOpacity": 0.5, "labelFont": "Liberation Serif", "labelFontSize": 66, "labelColor": "black", "labelOffset": 14, "columnPadding": 5, "labelLimit": 1000}
                },
                "detail": {"field": "run", "type": "nominal"}
              }
            }
          ]
        },
        {
          "spacing": 0,
          "vconcat": [
            {
              "width": 1406, "height": 128,
              "view": {"fill": "#cccccc", "stroke": "#7f7f7f", "strokeWidth": 2.5},
              "data": {"values": [{"label": "N: 30"}]},
              "mark": {"type": "text", "font": "Liberation Serif", "fontSize": 66, "color": "black"},
              "encoding": {"text": {"field": "label", "type": "nominal"}}
            },
            {
              "width": 1406, "height": 416,
              "data": {"name": "n30"},
              "mark": {"type": "line", "strokeWidth": 4.5, "opacity": 0.5, "clip": true, "interpolate": "monotone"},
              "encoding": {
                "x": {
                  "field": "episode", "type": "quantitative",
                  "scale": {"domain": [-50000, 1050000], "nice": false, "zero": false},
                  "axis": {
                    "title": null,
                    "values": [0, 250000, 500000, 750000, 1000000],
                    "labelExpr": "datum.value == 0 ? '0e+00' : datum.value == 500000 ? '5e+05' : datum.value == 1000000 ? '1e+06' : ''",
                    "gridColor": {"condition": {"test": "datum.value % 500000 == 0", "value": "#e5e5e5"}, "value": "#fafafa"},
                    "tickOpacity": {"condition": {"test": "datum.value % 500000 == 0", "value": 1}, "value": 0}
                  }
                },
                "y": {
                  "field": "regret", "type": "quantitative",
                  "scale": {"domain": [-18800, 392800], "nice": false, "zero": false},
                  "axis": {
                    "title": null,
                    "values": [0, 50000, 100000, 150000, 200000, 250000, 300000, 350000],
                    "labelExpr": "datum.value == 0 ? '0e+00' : datum.value % 100000 == 0 ? format(datum.value / 100000, 'd') + 'e+05' : ''",
                    "gridColor": {"condition": {"test": "datum.value % 100000 == 0", "value": "#e5e5e5"}, "value": "#fafafa"},
                    "tickOpacity": {"condition": {"test": "datum.value % 100000 == 0", "value": 1}, "value": 0}
                  }
                },
                "color": {
                  "field": "algo", "type": "nominal",
                  "scale": {"domain": ["UCRL2", "Gaussian PSRL", "PSRL"], "range": ["#d7191c", "#abdda4", "#2b83ba"]},
                  "legend": {"orient": "none", "legendX": 486, "legendY": -118, "direction": "horizontal", "columns": 3, "title": null, "symbolType": "stroke", "symbolSize": 3364, "symbolStrokeWidth": 4.7, "symbolOpacity": 0.5, "labelFont": "Liberation Serif", "labelFontSize": 66, "labelColor": "black", "labelOffset": 14, "columnPadding": 5, "labelLimit": 1000}
                },
                "detail": {"field": "run", "type": "nominal"}
              }
            }
          ]
        },
        {
          "spacing": 0,
          "vconcat": [
            {
              "width": 1406, "height": 128,
              "view": {"fill": "#cccccc", "stroke": "#7f7f7f", "strokeWidth": 2.5},
              "data": {"values": [{"label": "N: 50"}]},
              "mark": {"type": "text", "font": "Liberation Serif", "fontSize": 66, "color": "black"},
              "encoding": {"text": {"field": "label", "type": "nominal"}}
            },
            {
              "width": 1406, "height": 416,
              "data": {"name": "n50"},
              "mark": {"type": "line", "strokeWidth": 4.5, "opacity": 0.5, "clip": true},
              "encoding": {
                "x": {
                  "field": "episode", "type": "quantitative",
                  "scale": {"domain": [-50000, 1050000], "nice": false, "zero": false},
                  "axis": {
                    "title": "Episode",
                    "values": [0, 250000, 500000, 750000, 1000000],
                    "labelExpr": "datum.value == 0 ? '0e+00' : datum.value == 500000 ? '5e+05' : datum.value == 1000000 ? '1e+06' : ''",
                    "gridColor": {"condition": {"test": "datum.value % 500000 == 0", "value": "#e5e5e5"}, "value": "#fafafa"},
                    "tickOpacity": {"condition": {"test": "datum.value % 500000 == 0", "value": 1}, "value": 0}
                  }
                },
                "y": {
                  "field": "regret", "type": "quantitative",
                  "scale": {"domain": [-18800, 393800], "nice": false, "zero": false},
                  "axis": {
                    "title": null,
                    "values": [0, 50000, 100000, 150000, 200000, 250000, 300000, 350000],
                    "labelExpr": "datum.value == 0 ? '0e+00' : datum.value % 100000 == 0 ? format(datum.value / 100000, 'd') + 'e+05' : ''",
                    "gridColor": {"condition": {"test": "datum.value % 100000 == 0", "value": "#e5e5e5"}, "value": "#fafafa"},
                    "tickOpacity": {"condition": {"test": "datum.value % 100000 == 0", "value": 1}, "value": 0}
                  }
                },
                "color": {
                  "field": "algo", "type": "nominal",
                  "scale": {"domain": ["UCRL2", "Gaussian PSRL", "PSRL"], "range": ["#d7191c", "#abdda4", "#2b83ba"]},
                  "legend": {"orient": "none", "legendX": 486, "legendY": -118, "direction": "horizontal", "columns": 3, "title": null, "symbolType": "stroke", "symbolSize": 3364, "symbolStrokeWidth": 4.7, "symbolOpacity": 0.5, "labelFont": "Liberation Serif", "labelFontSize": 66, "labelColor": "black", "labelOffset": 14, "columnPadding": 5, "labelLimit": 1000}
                },
                "detail": {"field": "run", "type": "nominal"}
              }
            }
          ]
        }
      ]
    }
  ],
  "config": {
    "font": "Liberation Serif",
    "view": {"stroke": "#7f7f7f", "strokeWidth": 2.5, "fill": "white"},
    "axis": {
      "domain": false,
      "labelFont": "Liberation Serif",
      "labelFontSize": 66,
      "labelColor": "black",
      "labelOverlap": false,
      "labelFlush": false,
      "labelBound": false,
      "tickColor": "black",
      "tickWidth": 3.5,
      "tickSize": 20,
      "gridWidth": 2.5,
      "titleFont": "Liberation Serif",
      "titleFontSize": 83,
      "titleFontWeight": "normal",
      "titleColor": "black"
    },
    "axisX": {"labelPadding": 10, "titlePadding": 10},
    "axisY": {"labelPadding": 17}
  }
}
